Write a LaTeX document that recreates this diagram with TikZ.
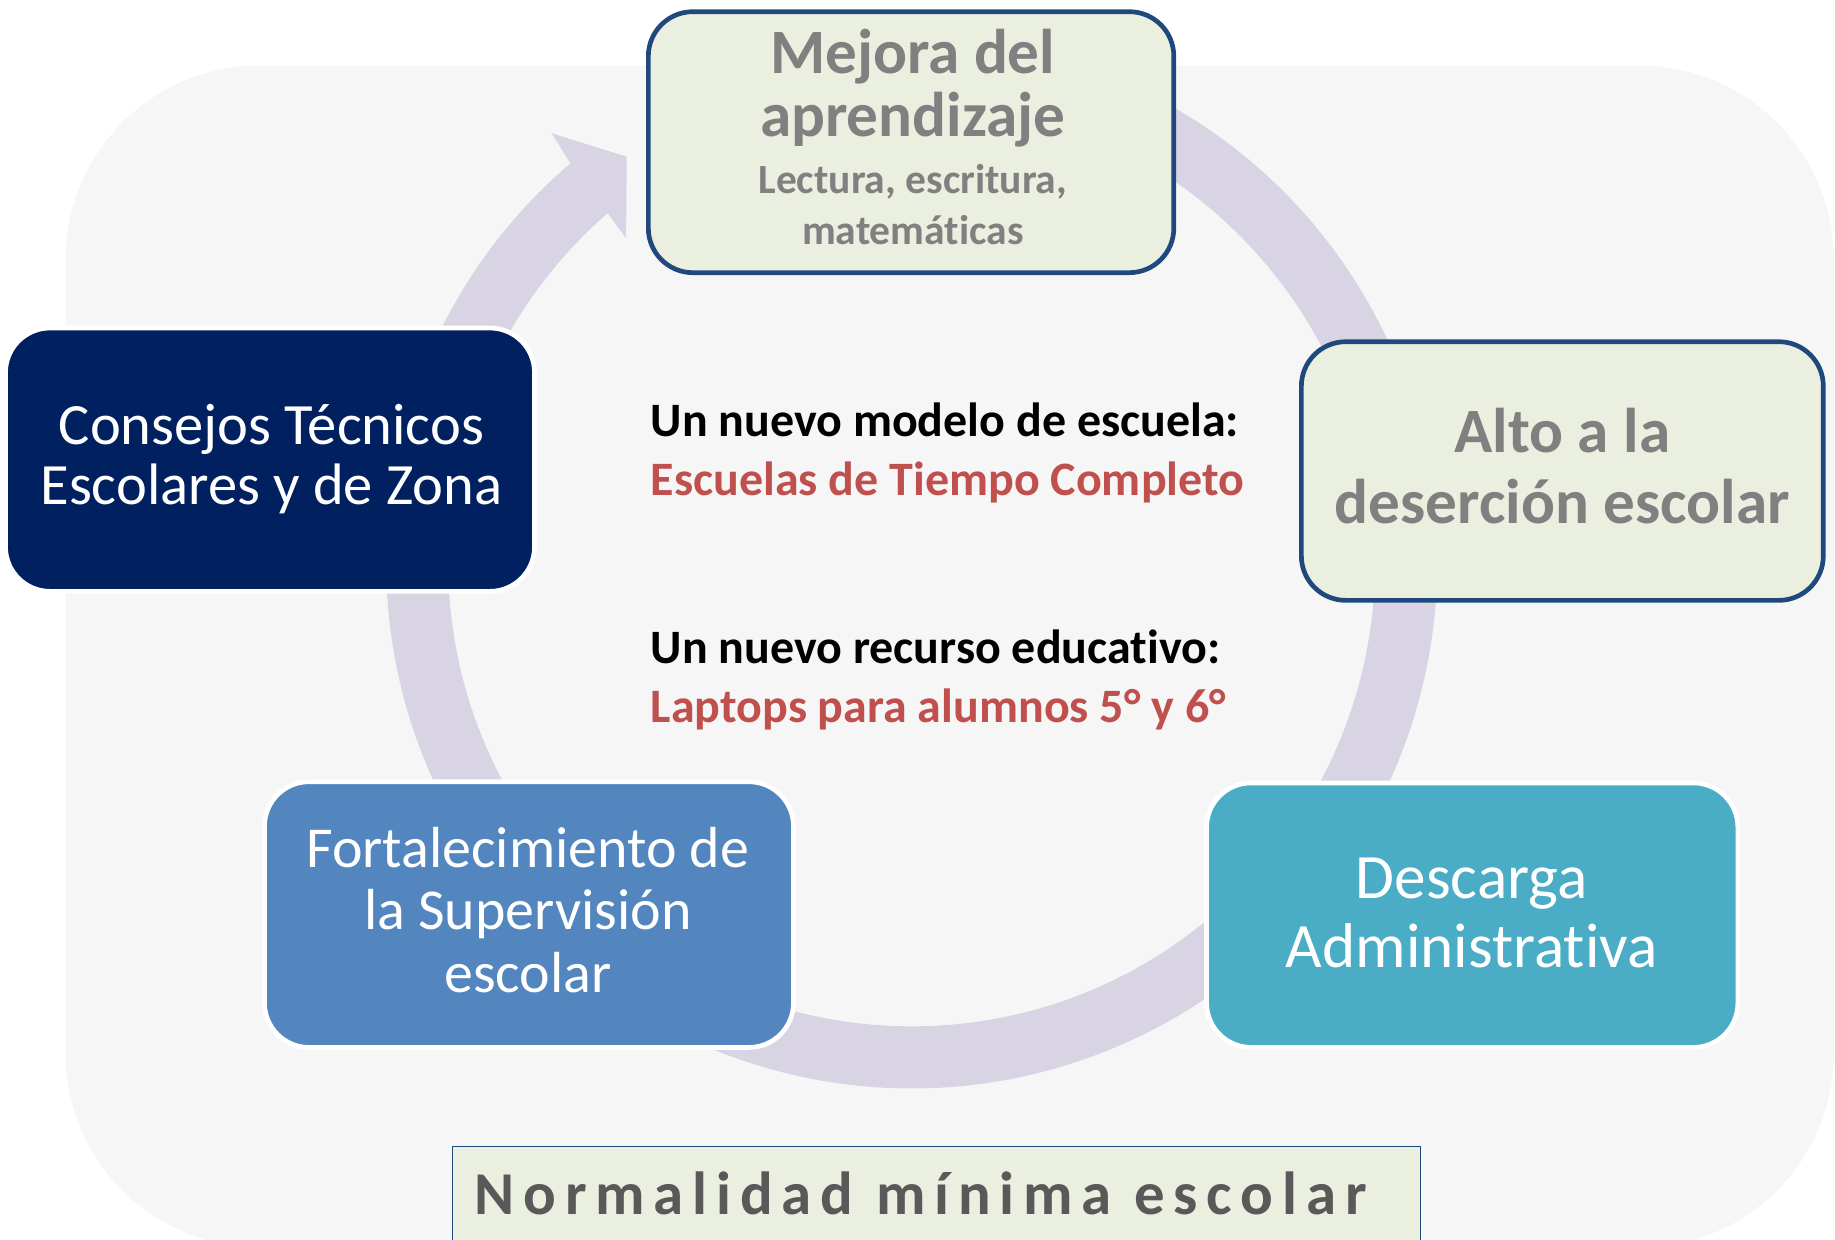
\documentclass[tikz,border=0pt]{standalone}
\usepackage{fontspec}
\setmainfont[Ligatures={NoCommon,NoContextual}]{Carlito}
\newfontfamily\spacedfont[LetterSpace=14.5,Ligatures={NoCommon,NoContextual}]{Carlito}
\newcommand{\nolig}{\kern0pt }
\usetikzlibrary{calc}
\definecolor{bgc}{HTML}{F6F6F6}
\definecolor{ringc}{HTML}{D8D4E3}
\definecolor{greenc}{HTML}{EBEFDF}
\definecolor{bluebd}{HTML}{1F497D}
\definecolor{grayt}{HTML}{808080}
\definecolor{navyc}{HTML}{002060}
\definecolor{midblue}{HTML}{5386BF}
\definecolor{tealc}{HTML}{4BACC6}
\definecolor{redt}{HTML}{C0504D}
\definecolor{darkt}{HTML}{595959}
\tikzset{
  card/.style={rounded corners=38pt, line width=4pt, inner sep=0pt},
  greencard/.style={card, draw=bluebd, fill=greenc},
  whitecard/.style={card, draw=white},
  ln/.style={anchor=base, inner sep=0pt},
  lnl/.style={anchor=base west, inner sep=0pt},
  grayb/.style={ln, text=grayt, font=\fontsize{#1}{#1}\selectfont\bfseries},
  whiter/.style={ln, text=white, font=\fontsize{#1}{#1}\selectfont},
  centb/.style={lnl, font=\fontsize{41}{41}\selectfont\bfseries}
}
\begin{document}
\begin{tikzpicture}[x=1pt,y=-1pt]
\useasboundingbox (0,0) rectangle (1568,1059);
\clip (0,0) rectangle (1568,1059);
% background panel
\fill[bgc, rounded corners=166pt] (56,56) rectangle (1567,1066);
% circular arrow
\coordinate (c) at (779,481);
\fill[ringc] ($(c)+(-115:449)$) arc[start angle=-115, end angle=229.5, radius=449]
  -- (471.4,113.9) -- (535.5,133.9) -- (535,203.6) -- (518.4,180.9)
  -- ($(c)+(229.5:396)$) arc[start angle=229.5, end angle=-115, radius=396] -- cycle;
% boxes
\node[greencard, minimum width=449pt, minimum height=223pt] (mejora) at (778.5,121.5) {};
\node[greencard, minimum width=446pt, minimum height=221pt] (alto) at (1335,402.5) {};
\node[whitecard, fill=navyc, minimum width=452pt, minimum height=225pt] (consejos) at (230.7,392.8) {};
\node[whitecard, fill=midblue, minimum width=452pt, minimum height=227pt] (fortal) at (452,781.5) {};
\node[whitecard, fill=tealc, minimum width=454pt, minimum height=226pt] (descarga) at (1258,782) {};
% texts in boxes
\node[grayb=54] (m1) at (780,63) {Mejora del};
\node[grayb=54] (m2) at (780,117) {aprendizaje};
\node[grayb=35.5] (m3) at (780,165) {Lectura, escritura,};
\node[grayb=35.5] (m4) at (780,209) {matemát\nolig icas};
\node[grayb=54] (a1) at (1335,387) {Alto a la};
\node[grayb=54] (a2) at (1335,447) {deserción escolar};
\node[whiter=50] (c1) at (232,380) {Consejos Técnicos};
\node[whiter=50] (c2) at (232,431.5) {Escolares y de Zona};
\node[whiter=49.5] (f1) at (451,741) {Fortalecimiento de};
\node[whiter=49.5] (f2) at (451,794) {la Supervisión};
\node[whiter=49.5] (f3) at (451,848) {escolar};
\node[whiter=54] (d1) at (1257.5,768) {Descarga};
\node[whiter=54] (d2) at (1257.5,826.5) {Administrat\nolig iva};
% center texts
\node[centb, text=black] (u1) at (556,373) {Un nuevo modelo de escuela:};
\node[centb, text=redt] (u2) at (556,423) {Escuelas de Tiempo Completo};
\node[centb, text=black] (u3) at (556,567) {Un nuevo recurso educat\nolig ivo:};
\node[centb, text=redt] (u4) at (556,617) {Laptops para alumnos 5° y 6°};
% bottom label
\node[draw=bluebd, fill=greenc, line width=1.5pt, anchor=north west, minimum width=827pt, minimum height=110pt, inner sep=0pt] (normal) at (386,979) {};
\node[lnl, text=darkt, font=\spacedfont\fontsize{52}{52}\selectfont\bfseries] (normaltxt) at (405.5,1038) {Normalidad mínima escolar};
\end{tikzpicture}
\end{document}
